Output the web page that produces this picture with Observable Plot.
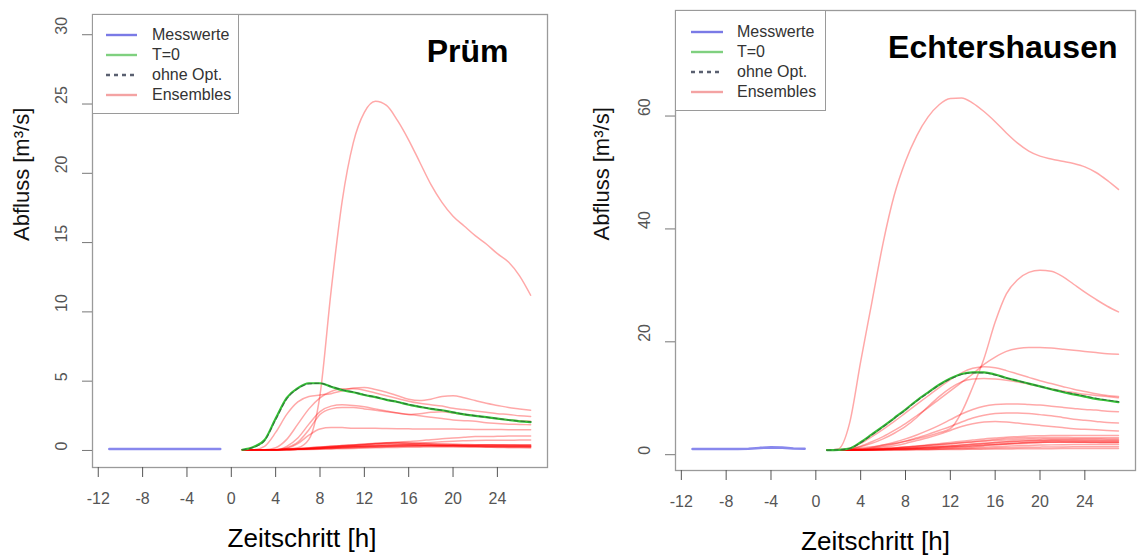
<!DOCTYPE html>
<html>
<head>
<meta charset="utf-8">
<script src="https://cdn.jsdelivr.net/npm/d3@7"></script>
<script src="https://cdn.jsdelivr.net/npm/@observablehq/plot@0.6"></script>
<style>
  body { margin: 0; background: #fff; font-family: "Liberation Sans", Arial, sans-serif; }
  #wrap { position: relative; width: 1137px; height: 557px; overflow: hidden; }
  .panel { position: absolute; top: 0; }
  .legend { position: absolute; border: 1px solid #9a9a9a; background: #fff; box-sizing: border-box; }
  .legend .row { position: absolute; left: 0; height: 20px; display: flex; align-items: center; }
  .legend .row span { font-size: 16px; color: #333; white-space: nowrap; }
</style>
</head>
<body>
<div id="wrap"></div>
<script>
// ---------- data ----------
const hoursObs = [-11,-10,-9,-8,-7,-6,-5,-4,-3,-2,-1];
const hoursFc  = [1,2,3,4,5,6,7,8,9,10,11,12,13,14,15,16,17,18,19,20,21,22,23,24,25,26,27];
const xTicks = [-12,-8,-4,0,4,8,12,16,20,24];
const pruemYTicks = [0,5,10,15,20,25,30];
const echtYTicks = [0,20,40,60];
const legendLabels = ["Messwerte","T=0","ohne Opt.","Ensembles"];
const xLabel = "Zeitschritt [h]";
const yLabel = "Abfluss [m³/s]";
const titles = ["Prüm","Echtershausen"];

// Prüm
const pruemObs  = [0.1,0.1,0.1,0.1,0.1,0.1,0.1,0.1,0.1,0.1,0.1];
const pruemT0   = [0.05,0.25,0.75,2.3,3.8,4.5,4.85,4.85,4.6,4.35,4.2,4.0,3.85,3.65,3.5,3.3,3.15,3.0,2.9,2.75,2.6,2.5,2.4,2.3,2.2,2.1,2.05];
const pruemOhne = [0.05,0.22,0.7,2.2,3.7,4.45,4.8,4.85,4.62,4.38,4.22,4.02,3.86,3.66,3.5,3.32,3.16,3.02,2.9,2.76,2.62,2.5,2.4,2.3,2.2,2.12,2.06];
const pruemEns01 = [0.05,0.05,0.05,0.05,0.1,0.2,0.8,4.0,11.5,18.0,22.2,24.4,25.2,24.9,23.8,22.4,20.8,19.2,17.9,16.9,16.2,15.5,14.9,14.2,13.6,12.6,11.2];
const pruemEns02 = [0.05,0.05,0.3,1.3,2.6,3.5,3.9,4.0,4.1,4.3,4.5,4.55,4.4,4.2,3.95,3.7,3.6,3.7,3.9,3.95,3.8,3.6,3.4,3.25,3.1,3.0,2.9];
const pruemEns03 = [0.05,0.05,0.05,0.2,0.8,1.9,3.0,3.8,4.25,4.45,4.45,4.35,4.15,3.95,3.75,3.55,3.4,3.3,3.2,3.05,2.95,2.85,2.75,2.65,2.6,2.5,2.45];
const pruemEns04 = [0.05,0.05,0.05,0.05,0.3,0.9,1.9,2.8,3.2,3.3,3.25,3.15,3.0,2.85,2.7,2.6,2.65,2.75,2.8,2.7,2.6,2.5,2.4,2.3,2.2,2.15,2.1];
const pruemEns05 = [0.05,0.05,0.05,0.05,0.2,0.6,1.5,2.6,3.0,3.1,3.1,3.0,2.9,2.8,2.7,2.6,2.5,2.4,2.3,2.2,2.15,2.1,2.0,1.95,1.9,1.88,1.85];
const pruemEns06 = [0.05,0.05,0.05,0.05,0.15,0.5,1.1,1.55,1.65,1.65,1.6,1.6,1.6,1.58,1.57,1.56,1.55,1.55,1.55,1.54,1.53,1.52,1.52,1.51,1.5,1.5,1.5];
const pruemEns07 = [0.05,0.05,0.05,0.05,0.08,0.12,0.18,0.25,0.3,0.35,0.4,0.45,0.5,0.55,0.6,0.65,0.7,0.78,0.85,0.9,0.95,1.0,1.0,1.02,1.04,1.05,1.05];
const pruemEns08 = [0.05,0.05,0.05,0.05,0.06,0.1,0.15,0.2,0.24,0.28,0.3,0.33,0.36,0.4,0.43,0.47,0.52,0.58,0.63,0.67,0.7,0.72,0.73,0.74,0.74,0.75,0.75];
const pruemEns09 = [0.05,0.05,0.05,0.05,0.06,0.08,0.12,0.16,0.2,0.24,0.28,0.32,0.36,0.4,0.42,0.43,0.44,0.44,0.44,0.43,0.42,0.42,0.41,0.41,0.4,0.4,0.4];
const pruemEns10 = [0.05,0.05,0.05,0.06,0.1,0.15,0.2,0.25,0.3,0.35,0.38,0.42,0.48,0.52,0.5,0.45,0.4,0.36,0.33,0.3,0.28,0.26,0.24,0.22,0.2,0.19,0.18];
const pruemEns11 = [0.05,0.05,0.05,0.05,0.07,0.1,0.14,0.18,0.22,0.25,0.28,0.3,0.32,0.34,0.35,0.36,0.36,0.36,0.35,0.35,0.34,0.34,0.33,0.33,0.32,0.32,0.32];
const pruemEns12 = [0.05,0.05,0.05,0.05,0.06,0.08,0.1,0.12,0.15,0.18,0.2,0.22,0.24,0.26,0.28,0.3,0.31,0.32,0.32,0.32,0.31,0.3,0.3,0.29,0.28,0.28,0.27];
const pruemEns13 = [0.05,0.05,0.05,0.05,0.05,0.06,0.07,0.09,0.11,0.13,0.15,0.17,0.19,0.21,0.22,0.23,0.24,0.25,0.25,0.25,0.25,0.25,0.24,0.24,0.24,0.23,0.23];
const pruemEns14 = [0.05,0.05,0.05,0.05,0.06,0.09,0.13,0.18,0.24,0.3,0.36,0.42,0.46,0.5,0.55,0.52,0.48,0.44,0.4,0.37,0.35,0.33,0.31,0.3,0.29,0.28,0.27];
const pruemEns15 = [0.05,0.05,0.05,0.05,0.07,0.11,0.16,0.22,0.28,0.34,0.4,0.46,0.52,0.56,0.58,0.57,0.54,0.5,0.47,0.45,0.43,0.42,0.41,0.4,0.39,0.38,0.37];
const pruemEns16 = [0.05,0.05,0.05,0.05,0.06,0.09,0.12,0.15,0.19,0.23,0.26,0.29,0.31,0.33,0.34,0.35,0.35,0.35,0.34,0.34,0.33,0.33,0.32,0.32,0.31,0.31,0.3];
const pruemEns17 = [0.05,0.05,0.05,0.05,0.05,0.07,0.09,0.12,0.15,0.18,0.21,0.24,0.27,0.29,0.31,0.33,0.34,0.35,0.36,0.37,0.38,0.38,0.39,0.39,0.4,0.4,0.4];

// Echtershausen
const echtObs  = [1.0,1.0,1.0,1.0,1.0,1.05,1.2,1.3,1.25,1.1,1.05];
const echtT0   = [0.8,0.85,1.1,2.2,3.6,5.0,6.5,8.0,9.6,11.0,12.4,13.5,14.3,14.6,14.6,14.2,13.6,13.1,12.6,12.1,11.6,11.1,10.7,10.3,9.9,9.6,9.3];
const echtOhne = [0.8,0.85,1.1,2.1,3.5,4.9,6.4,7.9,9.5,10.9,12.3,13.4,14.2,14.5,14.5,14.1,13.6,13.1,12.6,12.1,11.6,11.2,10.8,10.4,10.0,9.7,9.4];
const echtEns01 = [0.8,1.0,5.5,16.5,27.0,37.5,46.0,52.0,56.5,59.8,62.0,63.1,63.2,62.3,60.8,59.0,57.0,55.2,53.8,52.9,52.4,52.0,51.6,51.0,50.0,48.6,47.0];
const echtEns02 = [0.8,0.85,1.0,1.2,1.4,1.7,2.0,2.4,2.8,3.3,3.9,4.6,7.5,12.0,17.0,23.5,28.5,31.0,32.3,32.7,32.5,31.6,30.2,28.8,27.5,26.3,25.3];
const echtEns03 = [0.8,0.85,1.0,1.5,2.3,3.2,4.3,5.5,6.9,8.3,9.8,11.3,12.8,14.3,16.0,17.3,18.3,18.8,19.0,19.0,18.9,18.7,18.5,18.3,18.1,17.9,17.8];
const echtEns04 = [0.8,0.85,1.1,2.0,3.2,4.5,5.9,7.4,8.9,10.4,11.9,13.3,14.5,15.3,15.6,15.4,14.9,14.3,13.7,13.1,12.6,12.1,11.6,11.2,10.8,10.5,10.3];
const echtEns05 = [0.8,0.85,1.0,1.4,2.0,2.8,3.8,5.0,6.6,8.5,10.3,11.8,12.9,13.4,13.5,13.4,13.2,12.9,12.5,12.1,11.7,11.3,11.0,10.7,10.5,10.3,10.1];
const echtEns06 = [0.8,0.85,0.9,1.0,1.3,1.7,2.2,2.8,3.5,4.3,5.2,6.2,7.2,8.0,8.6,8.9,9.0,9.0,8.9,8.8,8.6,8.4,8.2,8.0,7.9,7.7,7.6];
const echtEns07 = [0.8,0.85,0.9,1.0,1.2,1.5,1.9,2.4,3.0,3.6,4.3,5.0,5.8,6.5,7.0,7.3,7.4,7.4,7.3,7.1,6.9,6.6,6.3,6.1,5.9,5.7,5.6];
const echtEns08 = [0.8,0.85,0.9,0.95,1.1,1.3,1.6,2.0,2.5,3.0,3.6,4.3,5.0,5.5,5.8,5.9,5.8,5.6,5.4,5.2,5.0,4.8,4.6,4.5,4.4,4.3,4.2];
const echtEns09 = [0.8,0.8,0.85,0.9,1.0,1.1,1.2,1.35,1.5,1.65,1.8,1.95,2.1,2.3,2.5,2.7,2.85,2.95,3.0,3.05,3.05,3.05,3.0,3.0,3.0,3.0,3.0];
const echtEns10 = [0.8,0.8,0.82,0.86,0.92,1.0,1.08,1.16,1.25,1.35,1.45,1.55,1.7,1.85,2.0,2.15,2.3,2.4,2.5,2.55,2.6,2.6,2.6,2.6,2.6,2.6,2.6];
const echtEns11 = [0.8,0.8,0.81,0.84,0.88,0.93,0.99,1.06,1.13,1.2,1.28,1.36,1.45,1.55,1.65,1.75,1.85,1.95,2.05,2.15,2.2,2.25,2.28,2.3,2.3,2.3,2.3];
const echtEns12 = [0.8,0.8,0.8,0.82,0.85,0.9,0.95,1.0,1.05,1.1,1.17,1.25,1.35,1.45,1.6,1.75,1.9,2.05,2.2,2.3,2.35,2.3,2.25,2.2,2.15,2.1,2.1];
const echtEns13 = [0.8,0.8,0.8,0.81,0.83,0.86,0.9,0.94,0.98,1.02,1.07,1.12,1.18,1.25,1.33,1.42,1.5,1.58,1.65,1.7,1.74,1.77,1.79,1.8,1.8,1.8,1.8];
const echtEns14 = [0.8,0.8,0.8,0.8,0.81,0.83,0.85,0.88,0.91,0.94,0.97,1.0,1.04,1.08,1.12,1.17,1.22,1.27,1.31,1.34,1.36,1.38,1.39,1.4,1.4,1.4,1.4];
const echtEns15 = [0.8,0.8,0.8,0.8,0.8,0.81,0.82,0.84,0.86,0.88,0.9,0.92,0.94,0.96,0.98,1.0,1.02,1.04,1.05,1.06,1.07,1.08,1.09,1.1,1.1,1.1,1.1];
const echtEns16 = [0.8,0.8,0.82,0.87,0.95,1.05,1.2,1.35,1.55,1.75,1.95,2.15,2.4,2.6,2.8,2.95,3.1,3.2,3.3,3.35,3.4,3.4,3.4,3.4,3.4,3.4,3.4];
const echtEns17 = [0.8,0.8,0.83,0.88,0.96,1.06,1.18,1.32,1.47,1.62,1.78,1.94,2.1,2.25,2.4,2.52,2.62,2.7,2.76,2.8,2.82,2.83,2.83,2.82,2.81,2.8,2.8];
const echtEns18 = [0.8,0.8,0.81,0.83,0.87,0.92,0.98,1.05,1.13,1.22,1.32,1.43,1.55,1.67,1.79,1.9,2.0,2.08,2.14,2.18,2.2,2.21,2.21,2.2,2.2,2.2,2.2];
const echtEns19 = [0.8,0.8,0.82,0.85,0.9,0.97,1.05,1.14,1.24,1.35,1.47,1.6,1.74,1.88,2.02,2.16,2.28,2.38,2.46,2.52,2.55,2.56,2.55,2.53,2.5,2.48,2.46];

// ---------- styles ----------
const FONT = "'Liberation Sans', Arial, sans-serif";
const colObs = "#6a6ae8";
const colT0 = "#35c035";
const colOhne = "#2b3340";
const colEns = "#ff0000";
const legendColors = ["#7a7ae6", "#7fd07f", "#5a6070", "#f4a3a3"];

function series(hours, values, key) {
  return values.map((v, i) => ({t: hours[i], v, m: key}));
}

function makePanel(cfg) {
  const ensData = cfg.ens.flatMap((vals, k) => series(hoursFc, vals, k));
  const yTickData = cfg.yTicks.map(v => ({v, label: String(v)}));
  return Plot.plot({
    width: cfg.width, height: 557,
    marginLeft: cfg.ml, marginRight: cfg.mr, marginTop: cfg.mt, marginBottom: cfg.mb,
    x: {domain: [-12.52, 28.52]},
    y: {domain: cfg.yDomain},
    style: {fontFamily: FONT, background: "transparent", overflow: "visible"},
    marks: [
      Plot.line(series(hoursObs, cfg.obs, "obs"), {x: "t", y: "v", stroke: colObs, strokeWidth: 2.6, strokeOpacity: 0.8}),
      Plot.line(ensData, {x: "t", y: "v", z: "m", stroke: colEns, strokeOpacity: 0.34, strokeWidth: 1.5, curve: "monotone-x"}),
      Plot.line(series(hoursFc, cfg.t0, "t0"), {x: "t", y: "v", stroke: colT0, strokeWidth: 2.2, curve: "monotone-x"}),
      Plot.line(series(hoursFc, cfg.ohne, "ohne"), {x: "t", y: "v", stroke: colOhne, strokeOpacity: 0.55, strokeWidth: 1.1, strokeDasharray: "4,3", curve: "monotone-x"}),
      Plot.frame({stroke: "#9a9a9a", strokeWidth: 1.3}),
      Plot.axisX({ticks: xTicks, tickSize: 10, tickPadding: 15, fontSize: 16, color: "#555", label: null, tickFormat: d => String(d)}),
      Plot.axisY({ticks: cfg.yTicks, tickSize: 10, tickFormat: () => "", label: null, color: "#777"}),
      Plot.text(yTickData, {y: "v", text: "label", rotate: () => -90, frameAnchor: "left", dx: -31, fontSize: 16, fill: "#555"}),
      Plot.text([cfg.title], {frameAnchor: "top-right", dx: cfg.tdx, dy: cfg.tdy, fontSize: 32, fontWeight: "bold", textAnchor: "end", lineAnchor: "top", fill: "#000"}),
      Plot.text([xLabel], {frameAnchor: "bottom", dx: cfg.xldx, dy: 79, fontSize: 26, lineAnchor: "bottom", fill: "#000"}),
      Plot.text([yLabel], {frameAnchor: "left", dx: cfg.yldx, rotate: -90, fontSize: 22, fill: "#111"})
    ]
  });
}

function makeLegend(left, top, w, h, lineX, lineW, textX, rowTop) {
  const div = document.createElement("div");
  div.className = "legend";
  Object.assign(div.style, {left: left + "px", top: top + "px", width: w + "px", height: h + "px"});
  legendLabels.forEach((lab, i) => {
    const row = document.createElement("div");
    row.className = "row";
    row.style.top = (rowTop + i * 20 - 10) + "px";
    const svg = d3.create("svg").attr("width", textX).attr("height", 20).style("display", "block");
    svg.append("line")
      .attr("x1", lineX).attr("x2", lineX + lineW).attr("y1", 10).attr("y2", 10)
      .attr("stroke", legendColors[i]).attr("stroke-width", 2.4)
      .attr("stroke-dasharray", i === 2 ? "4,4" : null);
    row.appendChild(svg.node());
    const span = document.createElement("span");
    span.textContent = lab;
    row.appendChild(span);
    div.appendChild(row);
  });
  return div;
}

const wrap = document.getElementById("wrap");

const left = makePanel({
  width: 560, ml: 92, mr: 13, mt: 14, mb: 90,
  yDomain: [-1.23, 31.46], yTicks: pruemYTicks,
  obs: pruemObs, t0: pruemT0, ohne: pruemOhne,
  ens: [pruemEns01, pruemEns02, pruemEns03, pruemEns04, pruemEns05, pruemEns06, pruemEns07,
        pruemEns08, pruemEns09, pruemEns10, pruemEns11, pruemEns12, pruemEns13, pruemEns14,
        pruemEns15, pruemEns16, pruemEns17],
  title: titles[0], tdx: -39, tdy: 25, xldx: -18, yldx: -71
});
left.classList.add("panel");
left.style.left = "0px";
wrap.appendChild(left);

const right = makePanel({
  width: 577, ml: 115, mr: 2, mt: 10, mb: 87,
  yDomain: [-2.8, 78.7], yTicks: echtYTicks,
  obs: echtObs, t0: echtT0, ohne: echtOhne,
  ens: [echtEns01, echtEns02, echtEns03, echtEns04, echtEns05, echtEns06, echtEns07, echtEns08,
        echtEns09, echtEns10, echtEns11, echtEns12, echtEns13, echtEns14, echtEns15, echtEns16,
        echtEns17, echtEns18, echtEns19],
  title: titles[1], tdx: -18, tdy: 25, xldx: -30, yldx: -74
});
right.classList.add("panel");
right.style.left = "560px";
wrap.appendChild(right);

wrap.appendChild(makeLegend(92, 14, 147, 100, 13, 31, 59, 20));
wrap.appendChild(makeLegend(675, 10, 151, 101, 15, 32, 61, 21));
</script>
</body>
</html>
